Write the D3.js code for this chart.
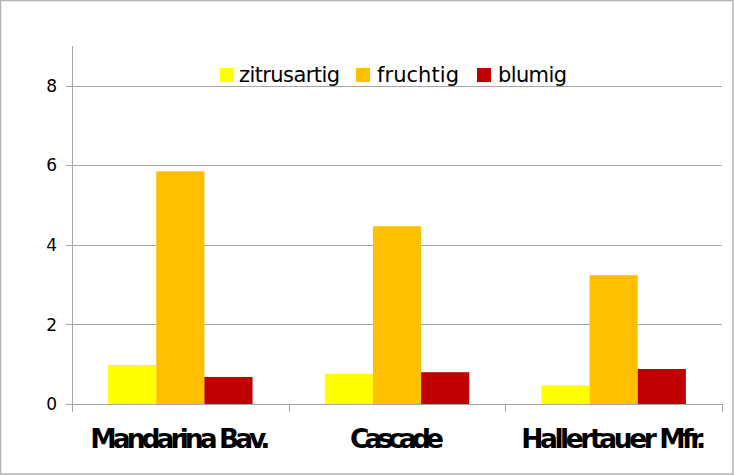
<!DOCTYPE html>
<html>
<head>
<meta charset="utf-8">
<script src="https://cdn.jsdelivr.net/npm/d3@7"></script>
<style>
  html, body { margin: 0; padding: 0; background: #fff; }
  svg { display: block; font-family: "DejaVu Sans", sans-serif; }
</style>
</head>
<body>
<svg id="chart" width="734" height="475"></svg>
<script>
// hop varieties and aroma scores
const categories = ['Mandarina Bav.', 'Cascade', 'Hallertauer Mfr.']
const seriesNames = ['zitrusartig', 'fruchtig', 'blumig']
const zitrusartig = [0.98, 0.76, 0.47]
const fruchtig = [5.85, 4.47, 3.24]
const blumig = [0.68, 0.80, 0.88]
const yTicks = [0, 2, 4, 6, 8]
const colors = ['#ffff00', '#ffc000', '#c00000']

const values = [zitrusartig, fruchtig, blumig]
const width = 734, height = 475
const margin = { top: 46, right: 12, bottom: 71, left: 72 }

const svg = d3.select('#chart')

// outer chart border
svg.append('rect')
  .attr('x', 0.5).attr('y', 0.5)
  .attr('width', width - 1.5).attr('height', height - 1.5)
  .attr('fill', '#fff')
  .attr('stroke', '#b3b3b3')
  .attr('stroke-width', 1.5)

const x = d3.scaleBand()
  .domain(categories)
  .range([margin.left, width - margin.right])

const y = d3.scaleLinear()
  .domain([0, 9])
  .range([height - margin.bottom, margin.top])

// bars sit in the middle 144/216 of each band (gap width 150%)
const inner = d3.scaleBand()
  .domain(seriesNames)
  .range([0, x.bandwidth()])
  .paddingOuter(0.75)
  .paddingInner(0)

// gridlines + y ticks
const grid = svg.append('g')
grid.selectAll('line')
  .data(yTicks)
  .enter().append('line')
  .attr('x1', margin.left - 6)
  .attr('x2', width - margin.right)
  .attr('y1', d => Math.round(y(d)) + 0.5)
  .attr('y2', d => Math.round(y(d)) + 0.5)
  .attr('stroke', '#a6a6a6')
  .attr('stroke-width', 1)

grid.selectAll('text')
  .data(yTicks)
  .enter().append('text')
  .attr('x', margin.left - 15)
  .attr('y', d => y(d))
  .attr('dy', '0.36em')
  .attr('text-anchor', 'end')
  .attr('font-size', 17)
  .attr('fill', '#000')
  .text(d => d)

// y axis line
svg.append('line')
  .attr('x1', margin.left + 0.5).attr('x2', margin.left + 0.5)
  .attr('y1', margin.top).attr('y2', y(0))
  .attr('stroke', '#a6a6a6')

// bars
const group = svg.selectAll('g.cat')
  .data(categories)
  .enter().append('g')
  .attr('class', 'cat')
  .attr('transform', d => `translate(${x(d)},0)`)

group.selectAll('rect')
  .data((d, i) => seriesNames.map((s, j) => ({ s, v: values[j][i], c: colors[j] })))
  .enter().append('rect')
  .attr('x', d => inner(d.s))
  .attr('width', inner.bandwidth())
  .attr('y', d => y(d.v))
  .attr('height', d => y(0) - y(d.v))
  .attr('fill', d => d.c)

// x axis line and ticks
svg.append('line')
  .attr('x1', margin.left).attr('x2', width - margin.right)
  .attr('y1', Math.round(y(0)) + 0.5).attr('y2', Math.round(y(0)) + 0.5)
  .attr('stroke', '#a6a6a6')

const xTickPos = categories.map(c => x(c)).concat([width - margin.right])
svg.selectAll('line.xtick')
  .data(xTickPos)
  .enter().append('line')
  .attr('class', 'xtick')
  .attr('x1', d => Math.round(d) + 0.5).attr('x2', d => Math.round(d) + 0.5)
  .attr('y1', y(0)).attr('y2', y(0) + 8)
  .attr('stroke', '#a6a6a6')

// category labels, bold with very tight spacing
const labelWidths = [180, 94, 185]
svg.selectAll('text.cat')
  .data(categories)
  .enter().append('text')
  .attr('class', 'cat')
  .attr('x', d => x(d) + x.bandwidth() / 2)
  .attr('y', 448)
  .attr('text-anchor', 'middle')
  .attr('font-size', 26.5)
  .attr('font-weight', 'bold')
  .attr('textLength', (d, i) => labelWidths[i])
  .attr('lengthAdjust', 'spacing')
  .text(d => d)

// legend
const legendX = [220, 356, 477]
const legendTextW = [101, 82, 69]
const legend = svg.selectAll('g.legend')
  .data(seriesNames)
  .enter().append('g')
  .attr('class', 'legend')
  .attr('transform', (d, i) => `translate(${legendX[i]},68)`)

legend.append('rect')
  .attr('width', 14).attr('height', 14)
  .attr('fill', (d, i) => colors[i])

legend.append('text')
  .attr('x', (d, i) => i === 0 ? 19 : 21)
  .attr('y', 14)
  .attr('font-size', 21)
  .attr('textLength', (d, i) => legendTextW[i])
  .attr('lengthAdjust', 'spacing')
  .text(d => d)
</script>
</body>
</html>
